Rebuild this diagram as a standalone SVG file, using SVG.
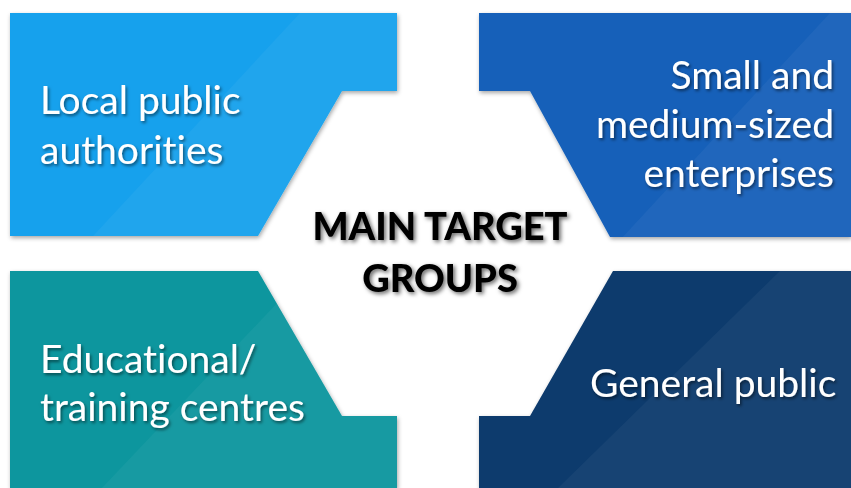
<svg xmlns="http://www.w3.org/2000/svg" width="851" height="488" viewBox="0 0 851 488">
  <defs>
    <style>
      .label { font-family: Lato, "Open Sans", "Liberation Sans", sans-serif; font-size: 39px; fill: #ffffff; filter: url(#textShadow); font-variant-ligatures: none; }
      .title { font-family: Lato, "Open Sans", "Liberation Sans", sans-serif; font-size: 38px; font-weight: 900; fill: #000000; filter: url(#titleShadow); font-variant-ligatures: none; }
      .sheen { fill: #ffffff; fill-opacity: 0.045; }
    </style>
    <filter id="boxShadow" x="-5%" y="-5%" width="110%" height="115%">
      <feDropShadow dx="1" dy="2" stdDeviation="2" flood-color="#000000" flood-opacity="0.35"/>
    </filter>
    <filter id="textShadow" x="-10%" y="-20%" width="120%" height="150%">
      <feDropShadow dx="1.5" dy="2" stdDeviation="1.5" flood-color="#000000" flood-opacity="0.5"/>
    </filter>
    <filter id="titleShadow" x="-10%" y="-20%" width="120%" height="150%">
      <feDropShadow dx="2" dy="2" stdDeviation="2" flood-color="#000000" flood-opacity="0.6"/>
    </filter>
    <clipPath id="clipTL"><polygon points="10,13 397,13 397,91 342,91 258,236 10,236"/></clipPath>
    <clipPath id="clipTR"><polygon points="479,13 851,13 851,237 610,237 530,91 479,91"/></clipPath>
    <clipPath id="clipBL"><polygon points="10,271 258,271 342,416 397,416 397,488 10,488"/></clipPath>
    <clipPath id="clipBR"><polygon points="613,271 851,271 851,488 479,488 479,416 530,416"/></clipPath>
  </defs>

  <rect width="851" height="488" fill="#ffffff"/>

  <!-- top left: local public authorities -->
  <g id="local-public-authorities">
    <polygon points="10,13 397,13 397,91 342,91 258,236 10,236" fill="#14a1ed" filter="url(#boxShadow)"/>
    <g clip-path="url(#clipTL)">
      <polygon class="sheen" points="93,236 300,13 400,13 400,240"/>
    </g>
    <text class="label" x="40" y="114">Local public</text>
    <text class="label" x="40" y="164">authorities</text>
  </g>

  <!-- top right: SMEs -->
  <g id="small-medium-enterprises">
    <polygon points="479,13 851,13 851,237 610,237 530,91 479,91" fill="#1761b9" filter="url(#boxShadow)"/>
    <g clip-path="url(#clipTR)">
      <polygon class="sheen" points="620,240 830,13 855,13 855,240"/>
    </g>
    <text class="label" x="834" y="89" text-anchor="end">Small and</text>
    <text class="label" x="834" y="138" text-anchor="end">medium-sized</text>
    <text class="label" x="834" y="187" text-anchor="end">enterprises</text>
  </g>

  <!-- bottom left: educational / training centres -->
  <g id="educational-training-centres">
    <polygon points="10,271 258,271 342,416 397,416 397,488 10,488" fill="#0e969e" filter="url(#boxShadow)"/>
    <g clip-path="url(#clipBL)">
      <polygon class="sheen" points="100,490 280,300 400,300 400,490"/>
    </g>
    <text class="label" x="40" y="373">Educational/</text>
    <text class="label" x="40" y="421">training centres</text>
  </g>

  <!-- bottom right: general public -->
  <g id="general-public">
    <polygon points="613,271 851,271 851,488 479,488 479,416 530,416" fill="#0d3a6d" filter="url(#boxShadow)"/>
    <g clip-path="url(#clipBR)">
      <polygon class="sheen" points="556,490 783,268 855,268 855,490"/>
    </g>
    <text class="label" x="590" y="397">General public</text>
  </g>

  <!-- centre heading -->
  <g id="main-target-groups">
    <text class="title" x="440" y="240" text-anchor="middle">MAIN TARGET</text>
    <text class="title" x="440" y="292" text-anchor="middle">GROUPS</text>
  </g>

  <g id="connectors"/>
</svg>
